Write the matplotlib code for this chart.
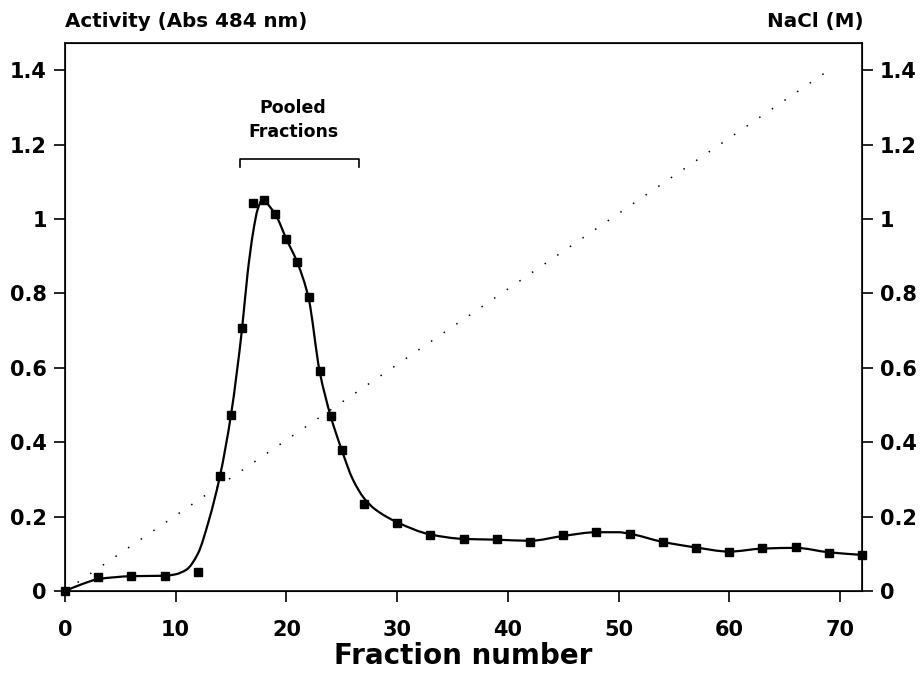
import matplotlib.pyplot as plt
import numpy as np
from matplotlib.path import Path
from matplotlib.patches import PathPatch

plt.rcParams['font.family'] = ['DejaVu Sans']
plt.rcParams['font.weight'] = 'bold'

# measured fractions (Abs 484 nm)
fraction = [0, 3, 6, 9, 12, 14, 15, 16, 17, 18, 19, 20, 21, 22, 23, 24, 25, 27,
            30, 33, 36, 39, 42, 45, 48, 51, 54, 57, 60, 63, 66, 69, 72]
activity = [0, 0.038, 0.041, 0.041, 0.051, 0.309, 0.474, 0.706, 1.043, 1.051,
            1.013, 0.946, 0.884, 0.79, 0.591, 0.47, 0.379, 0.234, 0.184, 0.15,
            0.139, 0.139, 0.131, 0.15, 0.158, 0.154, 0.131, 0.116, 0.104, 0.116,
            0.117, 0.102, 0.097]

# hand-drawn smooth curve
curve_x = [0, 1.5, 3, 4.5, 6, 9, 10, 11, 12, 13, 14, 15, 16, 16.5, 17, 17.4,
           17.8, 19, 20, 21, 22, 23, 24, 25, 26, 27, 28, 30, 33, 36, 39, 42,
           45, 48, 50, 51, 54, 57, 60, 63, 66, 69, 72]
curve_y = [0, 0.018, 0.032, 0.037, 0.04, 0.041, 0.045, 0.058, 0.10, 0.19,
           0.309, 0.474, 0.706, 0.855, 0.965, 1.025, 1.05, 1.012, 0.946, 0.882,
           0.788, 0.591, 0.47, 0.379, 0.30, 0.25, 0.22, 0.185, 0.152, 0.14,
           0.138, 0.135, 0.148, 0.158, 0.158, 0.154, 0.132, 0.117, 0.106,
           0.114, 0.116, 0.104, 0.097]

# NaCl gradient
nacl_x = [0, 69]
nacl_m = [0, 1.4]

yticks = [0, 0.2, 0.4, 0.6, 0.8, 1, 1.2, 1.4]
xticks = [0, 10, 20, 30, 40, 50, 60, 70]

fig = plt.figure(figsize=(9.24, 6.78), dpi=100)
ax = fig.add_axes([0.0703, 0.1283, 0.8627, 0.8083])
ax.set_xlim(0, 72)
ax.set_ylim(0, 1.473)

# smooth curve through the knots (monotone cubic Hermite as Bezier path)
cx = np.asarray(curve_x, float)
cy = np.asarray(curve_y, float)
d = np.diff(cy) / np.diff(cx)
slope = np.zeros_like(cy)
slope[0], slope[-1] = d[0], d[-1]
for i in range(1, len(cx) - 1):
    if d[i - 1] * d[i] > 0:
        w1 = 2 * (cx[i + 1] - cx[i]) + (cx[i] - cx[i - 1])
        w2 = (cx[i + 1] - cx[i]) + 2 * (cx[i] - cx[i - 1])
        slope[i] = (w1 + w2) / (w1 / d[i - 1] + w2 / d[i])
verts = [(cx[0], cy[0])]
codes = [Path.MOVETO]
for i in range(len(cx) - 1):
    h = cx[i + 1] - cx[i]
    verts += [(cx[i] + h / 3, cy[i] + slope[i] * h / 3),
              (cx[i + 1] - h / 3, cy[i + 1] - slope[i + 1] * h / 3),
              (cx[i + 1], cy[i + 1])]
    codes += [Path.CURVE4] * 3
ax.add_patch(PathPatch(Path(verts, codes), fill=False, lw=1.6, color='black'))

ax.plot(fraction, activity, 's', color='black', markersize=5.5, clip_on=False)
ax.plot(nacl_x, nacl_m, color='black', lw=1.1, linestyle=(0, (1, 9)))

# pooled fractions bracket
ax.plot([15.8, 15.8, 26.6, 26.6], [1.14, 1.161, 1.161, 1.14], color='black', lw=1.2)
ax.text(20.6, 1.266, 'Pooled\nFractions', ha='center', va='center', fontsize=12.5,
        fontweight='bold', linespacing=1.45)

ax.set_xticks(xticks)
ax.set_yticks(yticks)
ax.set_yticklabels(['%g' % v for v in yticks])
ax.tick_params(axis='both', direction='out', length=8, width=1.2, labelsize=15)
ax.tick_params(axis='x', pad=13)
ax.tick_params(axis='y', pad=5)
for s in ax.spines.values():
    s.set_linewidth(1.2)

ax2 = ax.twinx()
ax2.set_ylim(ax.get_ylim())
ax2.set_yticks(yticks)
ax2.set_yticklabels(['%g' % v for v in yticks])
ax2.tick_params(axis='y', direction='out', length=8, width=1.2, labelsize=15, pad=5)

ax.set_xlabel('Fraction number', fontsize=20, fontweight='bold', labelpad=1)
fig.text(0.0703, 0.968, 'Activity (Abs 484 nm)', ha='left', va='center',
         fontsize=14.3, fontweight='bold')
fig.text(0.935, 0.968, 'NaCl (M)', ha='right', va='center',
         fontsize=14.3, fontweight='bold')

fig.savefig('out.png', dpi=100)
